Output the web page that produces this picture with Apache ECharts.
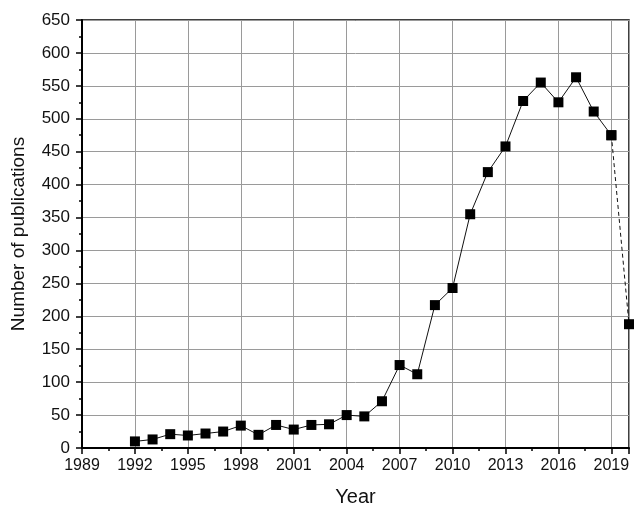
<!DOCTYPE html>
<html>
<head>
<meta charset="utf-8">
<script src="https://cdn.jsdelivr.net/npm/echarts@6/dist/echarts.min.js"></script>
<style>
  html, body { margin: 0; padding: 0; background: #fff; }
  #chart { width: 640px; height: 521px; }
</style>
</head>
<body>
<div id="chart"></div>
<script>
var years = [1992, 1993, 1994, 1995, 1996, 1997, 1998, 1999, 2000, 2001, 2002, 2003,
             2004, 2005, 2006, 2007, 2008, 2009, 2010, 2011, 2012, 2013, 2014, 2015,
             2016, 2017, 2018, 2019, 2020];
var publications = [10, 13, 21, 19, 22, 25, 34, 20, 35, 28, 35, 36,
                    50, 48, 71, 126, 112, 217, 243, 355, 419, 458, 527, 555,
                    525, 563, 511, 475, 188];

// last year (partial) is joined with a dashed segment
var solidPart = [];
var dashedPart = [];
for (var i = 0; i < years.length; i++) {
    if (i < years.length - 1) solidPart.push([years[i], publications[i]]);
    if (i >= years.length - 2) dashedPart.push([years[i], publications[i]]);
}

var font = 'Liberation Sans, Arial, sans-serif';
var chart = echarts.init(document.getElementById('chart'));

chart.setOption({
    animation: false,
    grid: {
        left: 82, top: 20, right: 11, bottom: 73,
        outerBoundsMode: 'none',
        containLabel: false,
        show: true, borderColor: '#000', borderWidth: 1.5
    },
    xAxis: {
        type: 'value',
        min: 1989, max: 2020, interval: 3,
        name: 'Year',
        nameLocation: 'middle',
        nameGap: 39,
        nameTextStyle: { fontSize: 20, color: '#111', fontFamily: font },
        axisLine: { lineStyle: { color: '#000', width: 2 } },
        axisTick: { inside: false, length: 6, lineStyle: { color: '#000', width: 1.5 } },
        minorTick: { show: true, splitNumber: 2, length: 3, lineStyle: { color: '#000', width: 1.5 } },
        axisLabel: {
            fontSize: 16, color: '#111', fontFamily: font, margin: 10, showMaxLabel: false,
            formatter: function (v) { return String(v); }
        },
        splitLine: { show: true, lineStyle: { color: '#9a9a9a', width: 1 } }
    },
    yAxis: {
        type: 'value',
        min: 0, max: 650, interval: 50,
        name: 'Number of publications',
        nameLocation: 'middle',
        nameGap: 54,
        nameTextStyle: { fontSize: 19, color: '#111', fontFamily: font },
        axisLine: { show: true, lineStyle: { color: '#000', width: 2 } },
        axisTick: { show: true, inside: false, length: 6, lineStyle: { color: '#000', width: 1.5 } },
        minorTick: { show: true, splitNumber: 2, length: 3, lineStyle: { color: '#000', width: 1.5 } },
        axisLabel: { fontSize: 17, color: '#111', fontFamily: font, margin: 12 },
        splitLine: { show: true, lineStyle: { color: '#9a9a9a', width: 1 } }
    },
    series: [
        {
            type: 'line',
            data: solidPart,
            symbol: 'rect',
            symbolSize: 10,
            itemStyle: { color: '#000' },
            lineStyle: { color: '#111', width: 1 },
            z: 3
        },
        {
            type: 'line',
            data: dashedPart,
            symbol: 'rect',
            symbolSize: 10,
            itemStyle: { color: '#000' },
            lineStyle: { color: '#111', width: 1, type: [4, 3] },
            z: 2
        }
    ]
});
</script>
</body>
</html>
